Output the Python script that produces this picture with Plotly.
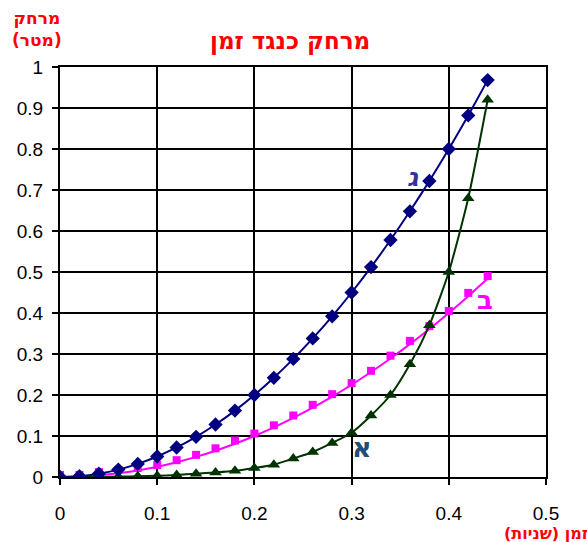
import plotly.graph_objects as go

# time samples (seconds)
t = [0.00, 0.02, 0.04, 0.06, 0.08, 0.10, 0.12, 0.14, 0.16, 0.18, 0.20, 0.22,
     0.24, 0.26, 0.28, 0.30, 0.32, 0.34, 0.36, 0.38, 0.40, 0.42, 0.44]

# distance (m) for each series
dist_gimel = [0, 0.002, 0.008, 0.018, 0.032, 0.05, 0.072, 0.098, 0.128, 0.162, 0.2, 0.242,
              0.288, 0.338, 0.392, 0.45, 0.512, 0.578, 0.648, 0.722, 0.8, 0.882, 0.968]
dist_bet = [0.005, 0.005, 0.012, 0.017, 0.022, 0.029, 0.041, 0.054, 0.07, 0.089, 0.106, 0.126,
            0.15, 0.176, 0.202, 0.229, 0.259, 0.296, 0.332, 0.368, 0.405, 0.449, 0.49]
trend_bet = [0, 0.001, 0.004, 0.009, 0.016, 0.025, 0.036, 0.049, 0.064, 0.081, 0.1, 0.121,
             0.144, 0.169, 0.196, 0.225, 0.256, 0.289, 0.324, 0.361, 0.4, 0.441, 0.484]
dist_alef = [0, 0, 0, 0.001, 0.002, 0.003, 0.005, 0.008, 0.011, 0.015, 0.022, 0.03,
             0.045, 0.061, 0.083, 0.108, 0.15, 0.2, 0.275, 0.37, 0.5, 0.68, 0.92]

x_ticks = [0, 0.1, 0.2, 0.3, 0.4, 0.5]
x_tick_text = ["0", "0.1", "0.2", "0.3", "0.4", "0.5"]
y_ticks = [0, 0.1, 0.2, 0.3, 0.4, 0.5, 0.6, 0.7, 0.8, 0.9, 1]
y_tick_text = ["0", "0.1", "0.2", "0.3", "0.4", "0.5", "0.6", "0.7", "0.8", "0.9", "1"]

NAVY = "#000080"
MAGENTA = "#FF00FF"
GREEN = "#003300"
RED = "#FF0000"
FONT = "Liberation Sans, Arial, sans-serif"
HEB = "DejaVu Sans, Liberation Sans, sans-serif"

fig = go.Figure()

fig.add_trace(go.Scatter(
    x=t, y=trend_bet, mode="lines", line=dict(color=MAGENTA, width=2, shape="spline"),
    hoverinfo="skip", showlegend=False))
fig.add_trace(go.Scatter(
    x=t, y=dist_bet, mode="markers",
    marker=dict(symbol="square", size=8, color=MAGENTA), showlegend=False))
fig.add_trace(go.Scatter(
    x=t, y=dist_alef, mode="lines+markers",
    line=dict(color=GREEN, width=2, shape="spline", smoothing=0.6),
    marker=dict(symbol="triangle-up", size=11, color=GREEN), showlegend=False))
fig.add_trace(go.Scatter(
    x=t, y=dist_gimel, mode="lines+markers",
    line=dict(color=NAVY, width=2, shape="spline", smoothing=0.6),
    marker=dict(symbol="diamond", size=11, color=NAVY), showlegend=False))

axis_common = dict(
    showgrid=True, gridcolor="black", gridwidth=2,
    showline=True, linecolor="black", linewidth=2, mirror=True,
    ticks="outside", ticklen=6, tickwidth=2, tickcolor="black",
    zeroline=False,
    tickfont=dict(family=FONT, size=19, color="black"),
)

fig.update_xaxes(range=[0, 0.5], tickvals=x_ticks, ticktext=x_tick_text,
                 ticklabelstandoff=12, **axis_common)
fig.update_yaxes(range=[0, 1], tickvals=y_ticks, ticktext=y_tick_text,
                 ticklabelstandoff=5, **axis_common)

fig.update_layout(
    width=587, height=542,
    margin=dict(l=60, r=41, t=67, b=65),
    paper_bgcolor="white", plot_bgcolor="white",
    annotations=[
        dict(text="<b>מרחק כנגד זמן</b>", xref="paper", yref="paper",
             x=(290 - 60) / 486, y=(477 - 42) / 410, xanchor="center", yanchor="middle",
             showarrow=False, font=dict(family=HEB, size=23, color=RED)),
        dict(text="<b>מרחק<br>(מטר)</b>", xref="paper", yref="paper",
             x=(37 - 60) / 486, y=(477 - 29) / 410, xanchor="center", yanchor="middle",
             showarrow=False, align="center",
             font=dict(family=HEB, size=17, color=RED)),
        dict(text="<b>זמן (שניות)</b>", xref="paper", yref="paper",
             x=(590 - 60) / 486, y=(477 - 533) / 410, xanchor="right", yanchor="middle",
             showarrow=False, font=dict(family=HEB, size=16, color=RED)),
        dict(text="<b><i>ג</i></b>", x=0.363, y=0.73, xref="x", yref="y",
             showarrow=False, font=dict(family=HEB, size=25, color="#333399")),
        dict(text="<b>ב</b>", x=0.437, y=0.432, xref="x", yref="y",
             showarrow=False, font=dict(family=HEB, size=26, color=MAGENTA)),
        dict(text="<b>א</b>", x=0.311, y=0.073, xref="x", yref="y",
             showarrow=False, font=dict(family=HEB, size=27, color="#1F4E79")),
    ],
)

fig.write_html("out.html")
